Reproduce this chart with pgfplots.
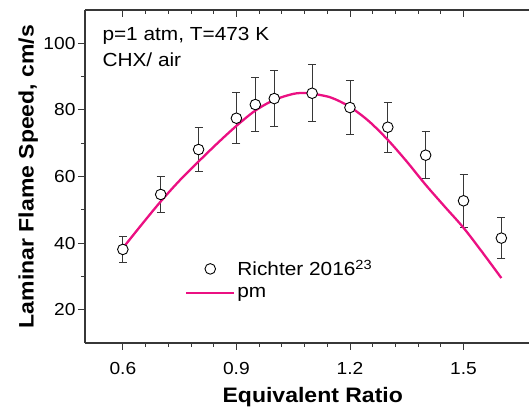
\documentclass[border=0pt]{standalone}
\usepackage{fontspec}
\setmainfont[FakeStretch=1.1]{Liberation Sans}
\usepackage{pgfplots}
\pgfplotsset{compat=1.18}
\usepackage{pgfplotstable}
\definecolor{pmpink}{RGB}{235,16,130}
\definecolor{axgray}{RGB}{55,55,55}
\pgfplotsset{pmlegend/.style={legend image code/.code={\draw[##1] (0bp,0bp) -- (48bp,0bp);}},
  mklegend/.style={legend image code/.code={\draw[mark repeat=2,mark phase=2,##1] plot coordinates {(0bp,0bp) (24bp,0bp) (48bp,0bp)};}}}

\pgfplotstableread{
x y e
0.60 38.1 3.8
0.70 54.6 5.3
0.80 68.1 6.7
0.90 77.5 7.6
0.95 81.6 8.1
1.00 83.4 8.3
1.10 85.0 8.5
1.20 80.7 8.1
1.30 74.8 7.5
1.40 66.4 7.0
1.50 52.7 7.9
1.60 41.5 6.2
}\richterdata

\pgfplotstableread{
x y
0.60 38.5
0.65 45.6
0.70 52.5
0.75 58.8
0.80 64.5
0.85 70.0
0.90 75.2
0.95 79.8
1.00 83.0
1.05 84.8
1.08 85.1
1.10 84.9
1.15 83.7
1.20 80.9
1.25 76.6
1.30 71.0
1.35 64.5
1.40 57.5
1.45 51.0
1.50 44.6
1.55 37.2
1.60 29.5
}\pmdata

\begin{document}
\begin{tikzpicture}
\useasboundingbox (-85bp,-64bp) rectangle (445bp,343bp);
\begin{axis}[
  scale only axis, width=444bp, height=333bp,
  xmin=0.5, xmax=1.673, ymin=10, ymax=110,
  axis x line*=bottom, axis y line*=left,
  axis line style={-, axgray, line width=1.1bp},
  every tick/.style={axgray, line width=0.9bp},
  tick align=outside,
  major tick length=7bp, minor tick length=4bp,
  xtick={0.6,0.9,1.2,1.5}, ytick={20,40,60,80,100},
  xticklabels={0.6,0.9,1.2,1.5}, yticklabels={20,40,60,80,100},
  minor x tick num=4, minor y tick num=1,
  ticklabel style={font=\fontsize{17.5}{20}\selectfont},
  xticklabel style={yshift=-9bp},
  yticklabel style={xshift=1bp},
  xlabel={Equivalent Ratio}, ylabel={Laminar Flame Speed, cm/s},
  label style={font=\bfseries\fontsize{21}{24}\selectfont},
  xlabel style={at={(axis description cs:0.513,-0.18)}, anchor=base},
  ylabel style={at={(axis description cs:-0.128,0.5)}, anchor=center},
  legend cell align=left,
  legend style={at={(axis description cs:0.225,0.19)}, anchor=west, draw=none, fill=none,
    inner sep=0pt, font=\fontsize{19}{22}\selectfont, row sep=6bp},
]
\addplot[only marks, mark=*, mark size=5.3bp,
  mark options={fill=white, draw=black, line width=0.9bp},
  mklegend,
  error bars/.cd, y dir=both, y explicit,
  error bar style={axgray, line width=0.9bp},
  error mark options={rotate=90, mark size=4bp, axgray, line width=0.9bp}]
  table[x=x, y=y, y error=e] {\richterdata};
\addlegendentry{Richter 2016\textsuperscript{23}}
\addplot[pmpink, line width=2.3bp, smooth, no marks, pmlegend]
  table[x=x, y=y] {\pmdata};
\addlegendentry{pm}
\node[anchor=base west, font=\fontsize{19}{22}\selectfont] at (axis description cs:0.0315,0.907) {p=1 atm, T=473 K};
\node[anchor=base west, font=\fontsize{19}{22}\selectfont] at (axis description cs:0.0315,0.829) {CHX/ air};
\end{axis}
\begin{axis}[
  scale only axis, width=444bp, height=333bp,
  xmin=0.5, xmax=1.673, ymin=10, ymax=110,
  axis x line*=top, axis y line=none,
  axis line style={-, axgray, line width=1.1bp},
  every tick/.style={axgray, line width=0.9bp},
  tick align=inside,
  major tick length=7bp, minor tick length=4bp,
  xtick={0.6,0.9,1.2,1.5}, xticklabels={},
  minor x tick num=4,
]
\end{axis}
\end{tikzpicture}
\end{document}
